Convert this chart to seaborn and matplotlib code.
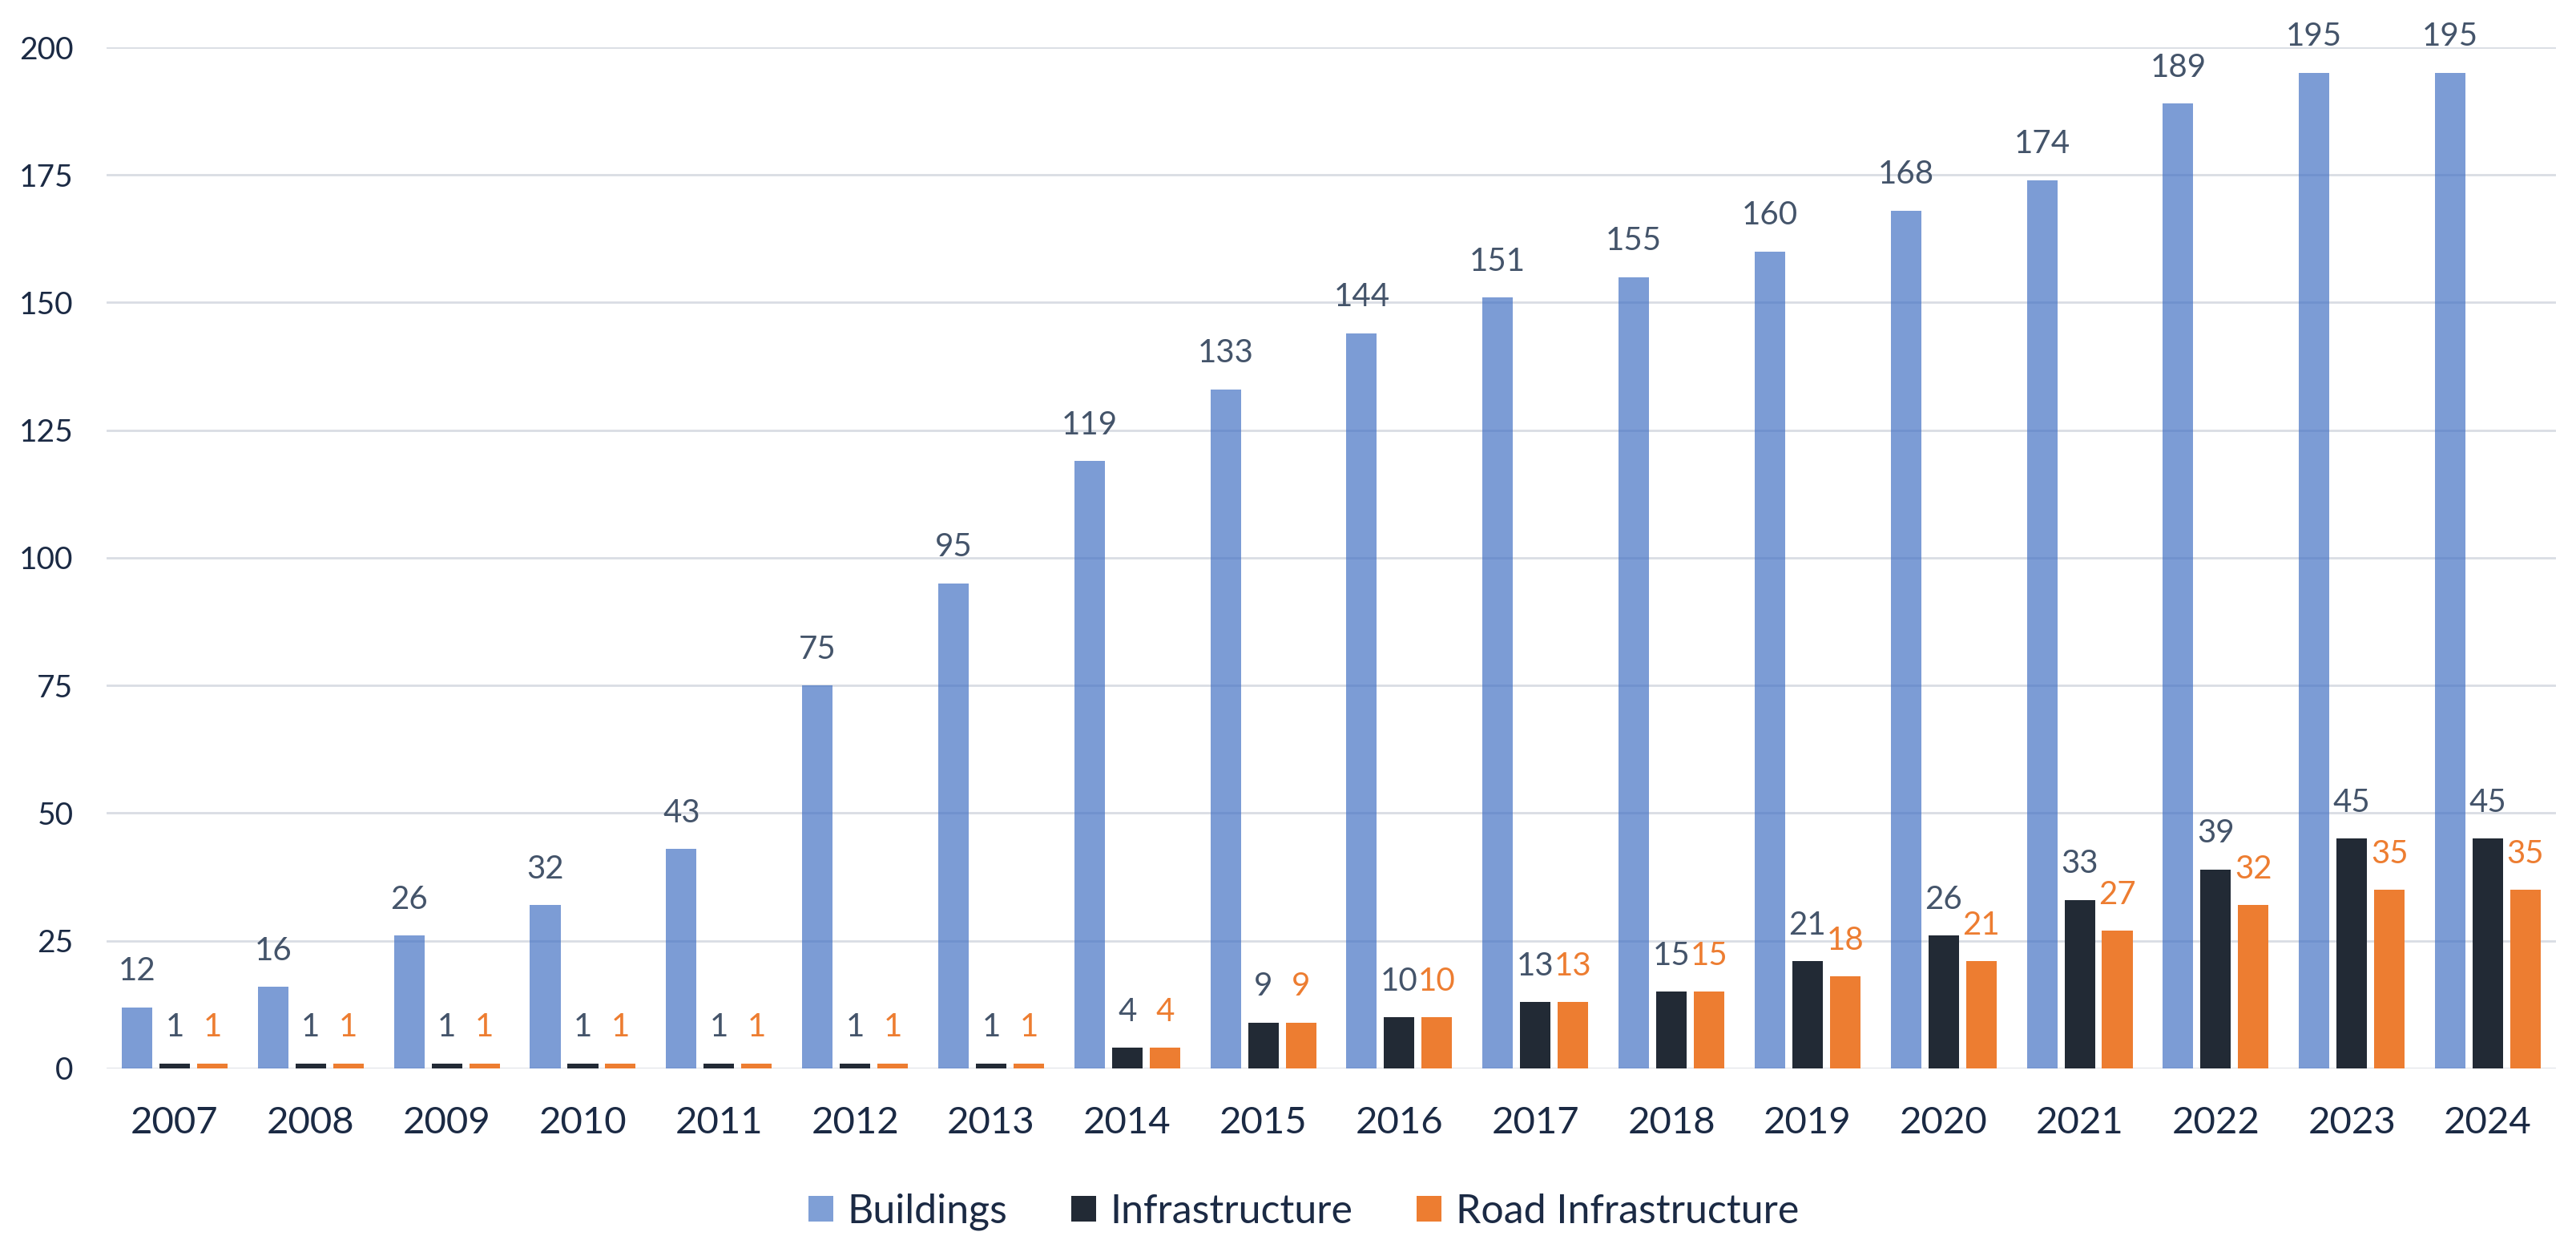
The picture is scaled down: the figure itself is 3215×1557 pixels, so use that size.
import matplotlib
matplotlib.use("Agg")
import matplotlib.pyplot as plt
from matplotlib.patches import Patch
import seaborn as sns
import pandas as pd

years = [str(y) for y in range(2007, 2025)]
buildings = [12, 16, 26, 32, 43, 75, 95, 119, 133, 144, 151, 155, 160, 168, 174, 189, 195, 195]
infrastructure = [1, 1, 1, 1, 1, 1, 1, 4, 9, 10, 13, 15, 21, 26, 33, 39, 45, 45]
road_infra = [1, 1, 1, 1, 1, 1, 1, 4, 9, 10, 13, 15, 18, 21, 27, 32, 35, 35]
series_names = ["Buildings", "Infrastructure", "Road Infrastructure"]
y_ticks = [0, 25, 50, 75, 100, 125, 150, 175, 200]

df = pd.DataFrame({
    "year": years * 3,
    "value": buildings + infrastructure + road_infra,
    "series": [series_names[0]] * 18 + [series_names[1]] * 18 + [series_names[2]] * 18,
})

bar_colors = ["#4472C4", "#222A35", "#ED7D31"]
legend_colors = ["#7F9FD6", "#222A35", "#ED7D31"]
label_colors = ["#44546A", "#44546A", "#ED7D31"]
tick_color = "#1B2A44"
grid_color = "#D9DDE4"

sns.set_theme(style="white")
plt.rcParams["font.family"] = ["Lato", "DejaVu Sans"]

fig = plt.figure(figsize=(32.15, 15.57), dpi=100)
ax = fig.add_axes([0.0414, 0.1439, 0.9508, 0.8182])

sns.barplot(data=df, x="year", y="value", hue="series", hue_order=series_names,
            palette=dict(zip(series_names, bar_colors)), width=0.83, gap=0.19,
            ax=ax, legend=False, saturation=1)

for i, cont in enumerate(ax.containers):
    for p in cont.patches:
        p.set_edgecolor("none")
        p.set_linewidth(0)
        if i == 0:
            p.set_alpha(0.7)
    ax.bar_label(cont, labels=[str(int(v)) for v in cont.datavalues],
                 padding=19, fontsize=29, color=label_colors[i])

ax.set_ylim(0, 200)
ax.set_xlim(-0.5, 17.5)
ax.set_yticks(y_ticks)
ax.set_yticklabels([str(t) for t in y_ticks])
ax.yaxis.grid(True, color=grid_color, linewidth=2)
ax.set_axisbelow(True)
for s in ax.spines.values():
    s.set_visible(False)
ax.tick_params(axis="both", length=0, colors=tick_color)
ax.tick_params(axis="y", pad=30, labelsize=28)
ax.tick_params(axis="x", pad=34, labelsize=34)
ax.set_xlabel("")
ax.set_ylabel("")

handles = [Patch(facecolor=c, edgecolor="none") for c in legend_colors]
leg = fig.legend(handles, series_names, loc="center", bbox_to_anchor=(0.506, 0.029),
                 ncol=3, frameon=False, fontsize=36, handlelength=0.62, handleheight=0.62,
                 columnspacing=1.6, handletextpad=0.35)
for t in leg.get_texts():
    t.set_color(tick_color)

fig.savefig("out.png", dpi=100, facecolor="white")
